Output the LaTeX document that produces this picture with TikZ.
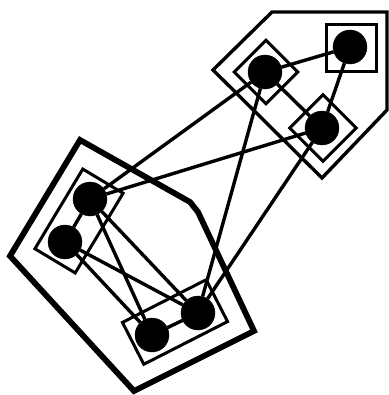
\documentclass[tikz,border=0pt]{standalone}
\usepackage{tikz}
\usetikzlibrary{positioning}

\begin{document}
\begin{tikzpicture}[
  x=1pt, y=-1pt,
  vert/.style={circle, fill=black, draw=black, inner sep=0pt, minimum size=34pt},
  grp/.style={draw=black, line width=3pt, inner sep=0pt},
  edge/.style={draw=black, line width=3.4pt},
  hull/.style={draw=black, line width=3.4pt, line join=miter},
  bighull/.style={draw=black, line width=5.8pt, line join=miter}
]
\useasboundingbox (0,0) rectangle (388,395);
% outer clusters
\draw[hull] (272,12) -- (387,12) -- (387,110) -- (322,178) -- (213,70) -- cycle;
\draw[bighull] (80,140) -- (190,202) -- (198,212) -- (254,331) -- (134,391) -- (10,256) -- cycle;
% group boxes
\node[grp, minimum width=50pt, minimum height=47pt] (boxa) at (351,48) {};
\node[grp, minimum size=45pt, rotate=45] (boxb) at (266,72) {};
\node[grp, minimum size=47pt, rotate=45] (boxc) at (323,128) {};
\node[grp, minimum width=93pt, minimum height=47pt, rotate=59] (boxde) at (79,221) {};
\node[grp, minimum width=94pt, minimum height=47pt, rotate=27] (boxfg) at (175,322) {};
% vertices
\node[vert] (a) at (350,47) {};
\node[vert] (b) at (265,72) {};
\node[vert] (c) at (322,128) {};
\node[vert] (d) at (90,199) {};
\node[vert] (e) at (65,242) {};
\node[vert] (f) at (152,335) {};
\node[vert] (g) at (198,313) {};
% edges
\draw[edge] (a) -- (b);
\draw[edge] (a) -- (c);
\draw[edge] (b) -- (c);
\draw[edge] (d) -- (e);
\draw[edge] (f) -- (g);
\draw[edge] (d) -- (f);
\draw[edge] (d) -- (g);
\draw[edge] (e) -- (f);
\draw[edge] (e) -- (g);
\draw[edge] (b) -- (d);
\draw[edge] (c) -- (d);
\draw[edge] (b) -- (g);
\draw[edge] (c) -- (g);
\end{tikzpicture}
\end{document}
